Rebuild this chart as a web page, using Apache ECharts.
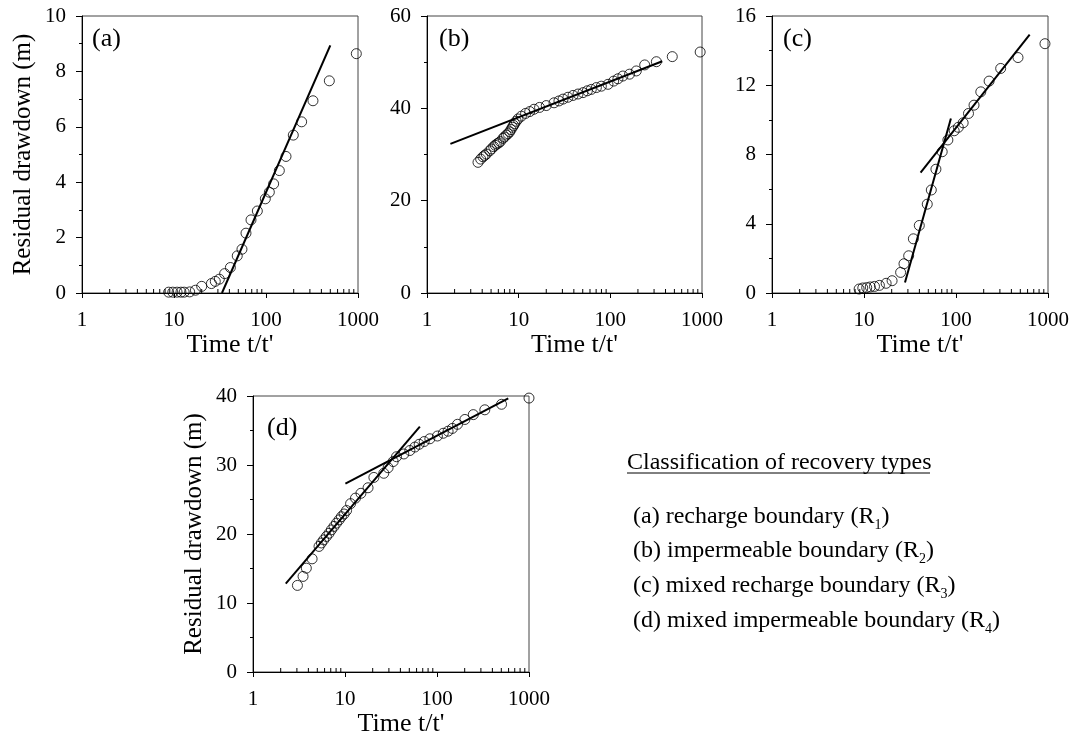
<!DOCTYPE html>
<html>
<head>
<meta charset="utf-8">
<script src="https://cdn.jsdelivr.net/npm/echarts@6/dist/echarts.min.js"></script>
<style>
html,body{margin:0;padding:0;background:#fff;}
#chart{width:1075px;height:738px;}
</style>
</head>
<body>
<div id="chart"></div>
<script>
// ---- Data ----
const xTickLabels = ['1', '10', '100', '1000'];
const minorTickValues = [2,3,4,5,6,7,8,9,20,30,40,50,60,70,80,90,200,300,400,500,600,700,800,900];

const aX = [8.75,9.7,10.8,11.9,12.9,14.8,17.1,20,25.5,28.1,31.1,35.5,41,48.7,54.8,60.6,68.7,80.5,98.3,108.7,121,139.6,165,198,244,324,488,959];
const aY = [0.03,0.03,0.03,0.03,0.03,0.04,0.1,0.24,0.34,0.42,0.5,0.7,0.92,1.34,1.58,2.16,2.64,2.96,3.4,3.64,3.94,4.42,4.93,5.7,6.18,6.94,7.66,8.64];
const aLineX = [33.2, 500];
const aLineY = [0, 8.94];

const bX = [3.6,3.85,4.08,4.25,4.44,4.83,5.05,5.34,5.55,5.8,6.05,6.3,6.75,7.0,7.33,7.65,7.97,8.25,8.53,8.8,9.04,9.4,9.84,10.7,11.9,13.2,14.7,16.9,20,24.3,27.5,30.5,34.5,39.2,44.4,50.3,56.1,62,70.4,79.8,94.3,108.7,121,137,162,192,237,318,474,955];
const bY = [28.3,29.0,29.5,29.8,30.1,30.8,31.2,31.7,32.0,32.3,32.5,32.8,33.5,33.8,34.2,34.5,34.9,35.4,35.9,36.3,36.7,37.2,37.7,38.3,38.9,39.3,39.8,40.2,40.6,41.2,41.6,42,42.4,42.8,43.1,43.4,43.8,44.1,44.5,44.8,45.2,45.9,46.4,47,47.4,48.1,49.4,50.1,51.2,52.2];
const bLineX = [1.8, 369];
const bLineY = [32.3, 50.2];

const cX = [8.85,9.7,10.7,11.7,13,14.7,17.4,20.2,25,27.2,30.6,34.4,39.9,48.7,53.9,60.5,70.8,81.6,95.6,106,119.6,136.7,157,186,229,306,472,927];
const cY = [0.23,0.29,0.31,0.35,0.38,0.44,0.56,0.71,1.19,1.69,2.15,3.13,3.9,5.13,5.95,7.15,8.16,8.84,9.37,9.57,9.83,10.37,10.85,11.62,12.24,12.97,13.6,14.4];
const cLine1X = [27.9, 88];
const cLine1Y = [0.61, 10.08];
const cLine2X = [41.2, 632];
const cLine2Y = [6.95, 14.93];

const dX = [3.04,3.5,3.8,4.39,5.22,5.54,5.87,6.28,6.71,7.11,7.6,8.07,8.63,9.14,9.77,10.4,11.5,13,14.9,17.8,20.6,26.4,29.4,33.4,36.3,43.6,50.7,57.5,64,72.6,83.6,101,117,132,147,167,201,248,331,503,1000];
const dY = [12.55,13.85,15.05,16.4,18.2,18.7,19.15,19.64,20.1,20.6,21.1,21.57,22.05,22.5,22.9,23.4,24.4,25.2,25.9,26.7,28.2,28.8,29.6,30.5,31.2,31.6,32.1,32.6,33,33.4,33.8,34.2,34.6,34.9,35.3,35.9,36.6,37.3,38,38.8,39.7];
const dLine1X = [2.27, 65.1];
const dLine1Y = [12.8, 35.56];
const dLine2X = [10.1, 595];
const dLine2Y = [27.3, 39.66];

const yMaxes = [10, 60, 16, 40];
const yIntervals = [2, 20, 4, 10];
const panelLabels = ['(a)', '(b)', '(c)', '(d)'];
const yAxisTitle = 'Residual drawdown (m)';
const xAxisTitle = "Time t/t'";
const legendTitle = 'Classification of recovery types';
const legendItems = [
  ['(a) recharge boundary (R', '1', ')'],
  ['(b) impermeable boundary (R', '2', ')'],
  ['(c) mixed recharge boundary (R', '3', ')'],
  ['(d) mixed impermeable boundary (R', '4', ')']
];

// ---- Layout ----
const FONT = 'Liberation Serif';
const grids = [
  {left: 82, top: 16, width: 276, height: 277},
  {left: 427, top: 16, width: 275, height: 277},
  {left: 772, top: 16, width: 276, height: 277},
  {left: 253, top: 396, width: 276, height: 276}
];
const showYName = [true, false, false, true];

const zip = (xs, ys) => xs.map((x, i) => [x, ys[i]]);

const xAxes = grids.map((g, i) => ({
  type: 'log', logBase: 10, min: 1, max: 1000, gridIndex: i,
  splitLine: {show: false},
  axisLine: {show: true, onZero: false, lineStyle: {color: '#000', width: 1}},
  axisTick: {show: true, length: 5, lineStyle: {color: '#000'}},
  axisLabel: {fontFamily: FONT, fontSize: 21, color: '#000', margin: 17,
    formatter: v => xTickLabels[Math.round(Math.log10(v))] || ''},
  name: xAxisTitle, nameLocation: 'middle', nameGap: 38,
  nameTextStyle: {fontFamily: FONT, fontSize: 26, color: '#000', padding: [0, 0, 0, 20]}
}));

const yAxes = grids.map((g, i) => ({
  type: 'value', min: 0, max: yMaxes[i], interval: yIntervals[i], gridIndex: i,
  splitLine: {show: false},
  axisLine: {show: true, onZero: false, lineStyle: {color: '#000', width: 1}},
  axisTick: {show: true, length: 6, lineStyle: {color: '#000'}},
  minorTick: {show: true, splitNumber: 2, length: 3, lineStyle: {color: '#000'}},
  axisLabel: {fontFamily: FONT, fontSize: 21, color: '#000', margin: 16},
  name: showYName[i] ? yAxisTitle : '', nameLocation: 'middle', nameGap: 46,
  nameTextStyle: {fontFamily: FONT, fontSize: 25, color: '#000'}
}));

function scatter(i, xs, ys) {
  return {type: 'scatter', xAxisIndex: i, yAxisIndex: i, data: zip(xs, ys),
    symbol: 'circle', symbolSize: 10, clip: false,
    itemStyle: {color: 'rgba(255,255,255,0)', borderColor: '#000', borderWidth: 1}, z: 3};
}
function fitLine(i, xs, ys) {
  return {type: 'line', xAxisIndex: i, yAxisIndex: i, data: zip(xs, ys),
    symbol: 'none', clip: false, lineStyle: {color: '#000', width: 2}, z: 4};
}
function minorTicks(i) {
  return {type: 'custom', xAxisIndex: i, yAxisIndex: i, silent: true, clip: false,
    data: minorTickValues.map(v => [v, 0]),
    renderItem: (params, api) => {
      const p = api.coord([api.value(0), 0]);
      return {type: 'line', shape: {x1: p[0], y1: p[1], x2: p[0], y2: p[1] - 4},
        style: {stroke: '#000', lineWidth: 1}};
    }};
}

const series = [
  scatter(0, aX, aY), fitLine(0, aLineX, aLineY),
  scatter(1, bX, bY), fitLine(1, bLineX, bLineY),
  scatter(2, cX, cY), fitLine(2, cLine1X, cLine1Y), fitLine(2, cLine2X, cLine2Y),
  scatter(3, dX, dY), fitLine(3, dLine1X, dLine1Y), fitLine(3, dLine2X, dLine2Y),
  minorTicks(0), minorTicks(1), minorTicks(2), minorTicks(3)
];

const labelPos = [[92, 39], [439, 39], [783, 39], [267, 428]];
const graphics = panelLabels.map((t, i) => ({
  type: 'text', x: labelPos[i][0], y: labelPos[i][1],
  style: {text: t, font: '26px "' + FONT + '"', fill: '#000', textVerticalAlign: 'middle'}
}));

graphics.push({
  type: 'text', x: 627, y: 463,
  style: {text: legendTitle, font: '24px "' + FONT + '"', fill: '#000', textVerticalAlign: 'middle'}
});
graphics.push({
  type: 'line', shape: {x1: 627, y1: 473, x2: 930, y2: 473},
  style: {stroke: '#000', lineWidth: 1}
});
const itemY = [517, 551, 586, 621];
legendItems.forEach((it, i) => {
  graphics.push({
    type: 'text', x: 633, y: itemY[i] - 15,
    style: {
      text: '{m|' + it[0] + '}{s|' + it[1] + '}{m|' + it[2] + '}',
      fill: '#000',
      rich: {
        m: {fontFamily: FONT, fontSize: 24, lineHeight: 30, color: '#000'},
        s: {fontFamily: FONT, fontSize: 14, lineHeight: 14, color: '#000', verticalAlign: 'bottom'}
      }
    }
  });
});

const chart = echarts.init(document.getElementById('chart'), null, {renderer: 'canvas'});
chart.setOption({
  animation: false,
  backgroundColor: '#fff',
  grid: grids.map(g => Object.assign({show: true, borderColor: '#444', borderWidth: 1, backgroundColor: 'transparent'}, g)),
  xAxis: xAxes,
  yAxis: yAxes,
  series: series,
  graphic: graphics
});
</script>
</body>
</html>
